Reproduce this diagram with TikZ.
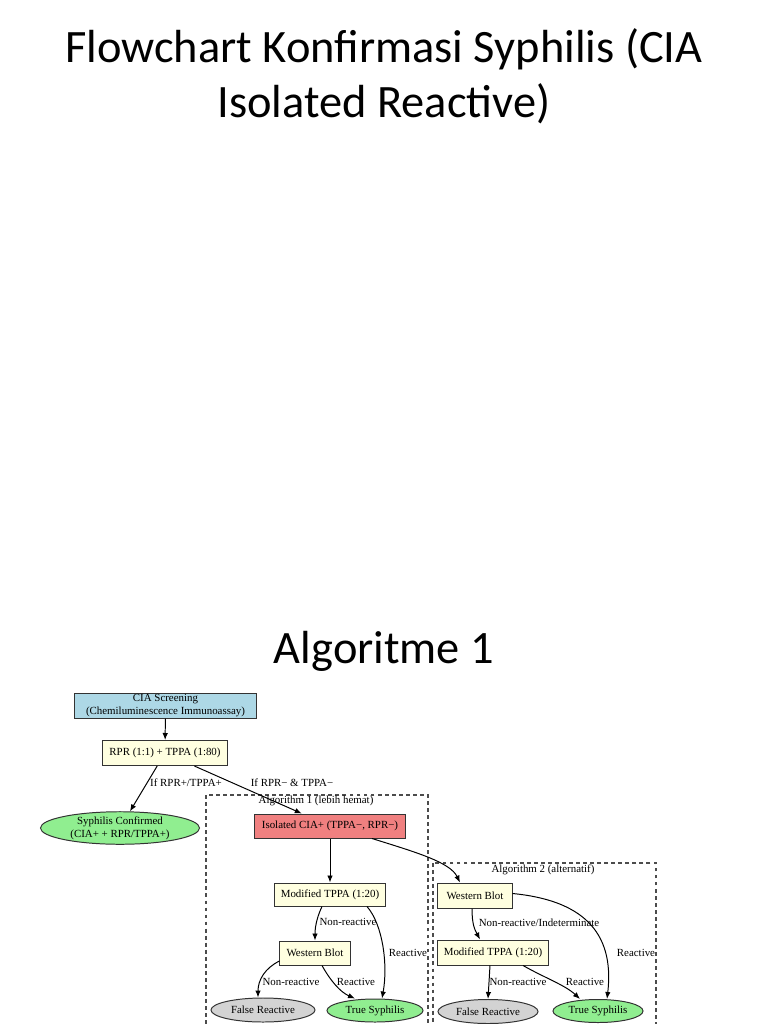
\documentclass[tikz,border=0pt]{standalone}
\usepackage{fontspec}
\setmainfont{Liberation Serif}
\newfontfamily\slidefont{Carlito}
\usetikzlibrary{shapes.geometric,arrows.meta}
\definecolor{cialblue}{HTML}{ADD8E6}
\definecolor{cialyellow}{HTML}{FFFFE0}
\definecolor{cialgreen}{HTML}{90EE90}
\definecolor{cialred}{HTML}{F08080}
\definecolor{cialgray}{HTML}{D3D3D3}
\begin{document}
\begin{tikzpicture}[x=0.01cm,y=-0.01cm,
  every node/.style={font=\fontsize{3.1}{3.7}\selectfont, inner sep=0pt},
  box/.style={draw=black!80, line width=0.28pt, fill=cialyellow, minimum height=0.24cm, align=center},
  oval/.style={ellipse, draw=black!80, line width=0.28pt, minimum height=0.24cm, align=center},
  edge/.style={-{Latex[length=0.7mm,width=0.55mm]}, line width=0.28pt},
  cluster/.style={draw=black!70, line width=0.35pt, dash pattern=on 1.1pt off 0.9pt}]
\useasboundingbox[fill=white] (0,0) rectangle (768,1024);
\node[font=\slidefont\fontsize{13.2}{15.6}\selectfont, align=center] (title) at (384,76) {Flowchart Konfirmasi Syphilis (CIA\\Isolated Reactive)};
\node[font=\slidefont\fontsize{13.2}{15.6}\selectfont] (algo) at (384,651) {Algoritme 1};

\draw[cluster] (206,795) rectangle (428,1030);
\draw[cluster] (433,863) rectangle (656,1030);
\node (c1lbl) at (316,801) {Algorithm 1 (lebih hemat)};
\node (c2lbl) at (543,870) {Algorithm 2 (alternatif)};

\node[box, fill=cialblue, minimum width=1.81cm, minimum height=0.25cm] (cia) at (165.5,705.5) {CIA Screening\\(Chemiluminescence Immunoassay)};
\node[box, minimum width=1.24cm, minimum height=0.25cm] (rpr) at (165,753) {RPR (1:1) + TPPA (1:80)};
\node[oval, fill=cialgreen, minimum width=1.59cm, minimum height=0.31cm] (conf) at (120,828) {Syphilis Confirmed\\(CIA+ + RPR/TPPA+)};
\node[box, fill=cialred, minimum width=1.51cm] (iso) at (330,826) {Isolated CIA+ (TPPA−, RPR−)};

\node[box, minimum width=1.1cm, minimum height=0.23cm] (modl) at (330,894.5) {Modified TPPA (1:20)};
\node[box, minimum width=0.7cm] (wbl) at (315,953) {Western Blot};
\node[oval, fill=cialgray, minimum width=1.04cm] (falsel) at (263,1010) {False Reactive};
\node[oval, fill=cialgreen, minimum width=0.96cm, minimum height=0.23cm] (truel) at (375,1010.5) {True Syphilis};

\node[box, minimum width=0.74cm, minimum height=0.25cm] (wbr) at (475,895.5) {Western Blot};
\node[box, minimum width=1.1cm, minimum height=0.25cm] (modr) at (493,952.5) {Modified TPPA (1:20)};
\node[oval, fill=cialgray, minimum width=1.0cm] (falser) at (488,1011.5) {False Reactive};
\node[oval, fill=cialgreen, minimum width=0.9cm, minimum height=0.23cm] (truer) at (598,1011) {True Syphilis};

\draw[edge] (cia) -- (rpr);
\draw[edge] (rpr) -- (conf) node at (186,783) {If RPR+/TPPA+};
\draw[edge] (rpr) -- (iso) node at (292,783) {If RPR− \& TPPA−};
\draw[edge] (iso) -- (modl);
\draw[edge] ([xshift=0.42cm]iso.south) .. controls (415,852) and (450,862) .. ([xshift=-0.15cm]wbr.north);

\draw[edge] ([xshift=-0.08cm]modl.south) .. controls (318,915) and (315,925) .. (wbl.north) node at (348,922) {Non-reactive};
\draw[edge] ([xshift=0.37cm]modl.south) .. controls (383,925) and (388,965) .. ([xshift=0.07cm]truel.north) node at (408,953) {Reactive};
\draw[edge] ([yshift=-0.08cm]wbl.west) .. controls (265,968) and (258,980) .. ([xshift=-0.05cm]falsel.north) node at (291,982) {Non-reactive};
\draw[edge] ([xshift=0.07cm]wbl.south) .. controls (330,980) and (340,992) .. ([xshift=-0.2cm]truel.north) node at (356,982) {Reactive};

\draw[edge] ([xshift=-0.03cm]wbr.south) .. controls (472,925) and (475,930) .. ([xshift=-0.13cm]modr.north) node at (539,923) {Non-reactive/Indeterminate};
\draw[edge] ([yshift=0.02cm]wbr.east) .. controls (580,900) and (615,930) .. ([xshift=0.09cm]truer.north) node at (636,953) {Reactive};
\draw[edge] ([xshift=-0.03cm]modr.south) -- (falser.north) node at (518,982) {Non-reactive};
\draw[edge] ([xshift=0.3cm]modr.south) .. controls (545,978) and (565,985) .. ([xshift=-0.18cm]truer.north) node at (585,982) {Reactive};
\end{tikzpicture}
\end{document}
